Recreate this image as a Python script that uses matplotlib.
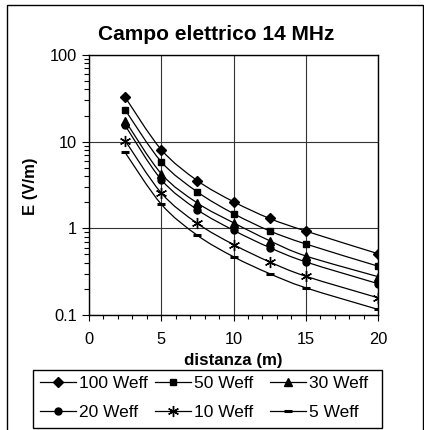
import numpy as np
import matplotlib
matplotlib.use("Agg")
import matplotlib.pyplot as plt
from matplotlib.path import Path
from matplotlib.patches import PathPatch, Rectangle
from matplotlib.lines import Line2D
from matplotlib.ticker import FixedLocator, LogLocator, MultipleLocator, NullFormatter

plt.rcParams['font.family'] = ['Liberation Sans', 'DejaVu Sans']

# distances (m) and field values (V/m)
distanza = [2.5, 5, 7.5, 10, 12.5, 15, 20]
e_100w = [32.6, 8.1, 3.55, 2.03, 1.30, 0.93, 0.51]
e_50w = [23.3, 5.87, 2.63, 1.48, 0.935, 0.66, 0.366]
e_30w = [17.5, 4.27, 1.96, 1.16, 0.72, 0.48, 0.277]
e_20w = [15.4, 3.65, 1.64, 0.95, 0.60, 0.41, 0.23]
e_10w = [10.3, 2.56, 1.14, 0.65, 0.41, 0.28, 0.158]
e_5w = [7.5, 1.9, 0.83, 0.47, 0.30, 0.206, 0.116]

labels = ['100 Weff', '50 Weff', '30 Weff', '20 Weff', '10 Weff', '5 Weff']
series = [e_100w, e_50w, e_30w, e_20w, e_10w, e_5w]
markers = [('D', 5.0, 1.0), ('s', 5.0, 1.0), ('^', 5.5, 1.0),
           ('o', 5.0, 1.0), ((6, 2, 0), 8.0, 1.0), ('_', 6.0, 2.2)]

W, H = 424, 430


def smooth_path(x, y):
    """Excel-like smoothed line: Catmull-Rom segments as cubic Beziers (x, log y)."""
    px = np.asarray(x, float)
    py = np.log10(np.asarray(y, float))
    n = len(px)
    verts = [(px[0], py[0])]
    codes = [Path.MOVETO]
    for i in range(n - 1):
        i0 = max(i - 1, 0)
        i3 = min(i + 2, n - 1)
        c1 = (px[i] + (px[i + 1] - px[i0]) / 6, py[i] + (py[i + 1] - py[i0]) / 6)
        c2 = (px[i + 1] - (px[i3] - px[i]) / 6, py[i + 1] - (py[i3] - py[i]) / 6)
        verts += [c1, c2, (px[i + 1], py[i + 1])]
        codes += [Path.CURVE4] * 3
    verts = [(vx, 10 ** vy) for vx, vy in verts]
    return Path(verts, codes)


fig = plt.figure(figsize=(W / 100, H / 100), dpi=100)
ax = fig.add_axes([89 / W, 1 - 315 / H, (378 - 89) / W, (315 - 55) / H])
ax.set_yscale('log')

handles = []
for vals, lab, (mk, ms, mew) in zip(series, labels, markers):
    ax.add_patch(PathPatch(smooth_path(distanza, vals), fill=False,
                           edgecolor='black', lw=0.9, zorder=3))
    ax.plot(distanza, vals, linestyle='none', marker=mk, ms=ms, mew=mew,
            color='black', zorder=4)
    handles.append(Line2D([], [], color='black', lw=0.9, marker=mk, ms=ms,
                          mew=mew))

ax.set_xlim(0, 20)
ax.set_ylim(0.1, 100)
ax.xaxis.set_major_locator(MultipleLocator(5))
ax.xaxis.set_minor_locator(MultipleLocator(1))
ax.yaxis.set_major_locator(FixedLocator([0.1, 1, 10, 100]))
ax.set_yticklabels(['0.1', '1', '10', '100'])
ax.yaxis.set_minor_locator(LogLocator(base=10, subs=np.arange(2, 10)))
ax.yaxis.set_minor_formatter(NullFormatter())
ax.grid(True, which='major', color='#333333', lw=0.8)
ax.set_axisbelow(True)
for sp in ax.spines.values():
    sp.set_linewidth(1.0)
ax.tick_params(axis='both', which='major', direction='out', labelsize=11.8,
               width=0.8)
ax.tick_params(axis='y', which='major', length=5, pad=3.5)
ax.tick_params(axis='y', which='minor', length=3.5, width=0.8)
ax.tick_params(axis='x', which='major', length=4, pad=8)
ax.tick_params(axis='x', which='minor', length=3, width=0.8)

fig.text(0.51, 1 - 35 / H, 'Campo elettrico 14 MHz', ha='center', va='center',
         fontsize=15, fontweight='bold')
fig.text(31 / W, 1 - 186 / H, 'E (V/m)', ha='center', va='center',
         rotation=90, fontsize=12, fontweight='bold')
fig.text(233 / W, 1 - 361 / H, 'distanza (m)', ha='center', va='center',
         fontsize=12.2, fontweight='bold')

# legend: three columns inside one box
cols = [(0, 3), (1, 4), (2, 5)]
col_x = [40, 155, 270]
for (a, b), cx in zip(cols, col_x):
    fig.legend([handles[a], handles[b]], [labels[a], labels[b]],
               loc='upper left', bbox_to_anchor=(cx / W, 1 - 376 / H),
               frameon=False, fontsize=12.5, borderpad=0, borderaxespad=0,
               handlelength=2.1, handletextpad=0.15, labelspacing=0.8)
fig.add_artist(Rectangle((33 / W, 1 - 428 / H), (382 - 33) / W, 58 / H,
                         transform=fig.transFigure, fill=False,
                         edgecolor='black', lw=1.0))

# outer chart border (bottom edge cut off)
fig.add_artist(Rectangle((7 / W, -0.05), (423 - 7) / W, 1.05 - 5.5 / H,
                         transform=fig.transFigure, fill=False,
                         edgecolor='black', lw=1.0))

fig.savefig('out.png', dpi=100)
